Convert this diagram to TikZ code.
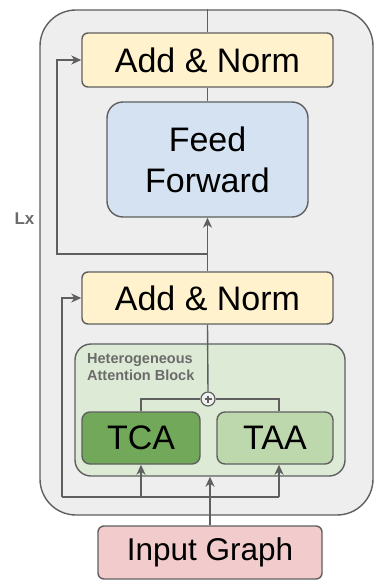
\documentclass[tikz,border=0pt]{standalone}
\usepackage{fontspec}
\setmainfont{Liberation Sans}
\usetikzlibrary{arrows.meta,positioning}

\definecolor{linegray}{HTML}{5F5F5F}
\definecolor{layerbg}{HTML}{EEEEEE}
\definecolor{normfill}{HTML}{FFF2CC}
\definecolor{fffill}{HTML}{D4E2F1}
\definecolor{habfill}{HTML}{DDEAD5}
\definecolor{tcafill}{HTML}{72A85A}
\definecolor{taafill}{HTML}{BCD8AC}
\definecolor{inputfill}{HTML}{F2CCCC}
\definecolor{labelgray}{HTML}{6B6B6B}

\tikzset{
  box/.style={draw=linegray, line width=1.4pt, align=center, inner sep=0pt,
    font=\fontsize{34}{41}\selectfont},
  arr/.style={draw=linegray, line width=1.4pt,
    -{Stealth[length=10pt,width=9pt,inset=3pt]}},
  wire/.style={draw=linegray, line width=1.4pt}
}

\begin{document}
\begin{tikzpicture}[x=1pt,y=-1pt]
\useasboundingbox (0,0) rectangle (374,580);
% repeated layer
\node[box, fill=layerbg, rounded corners=36pt, minimum width=333pt, minimum height=505pt] (layer) at (206.5,262.5) {};
\node[font=\fontsize{17}{20}\selectfont\bfseries, text=labelgray, inner sep=0pt] (lx) at (24.5,219) {Lx};
% upper half of the layer
\node[box, fill=normfill, rounded corners=6pt, minimum width=251pt, minimum height=54pt] (norm2) at (207.5,60) {Add \& Norm};
\node[box, fill=fffill, rounded corners=16pt, minimum width=201pt, minimum height=115pt] (ff) at (207.5,159.5) {Feed\\Forward};
\node[box, fill=normfill, rounded corners=6pt, minimum width=251pt, minimum height=52pt] (norm1) at (207.5,298) {Add \& Norm};
% attention block
\node[box, fill=habfill, rounded corners=16pt, minimum width=270pt, minimum height=132pt] (hab) at (210,410) {};
\node[anchor=base west, align=left, inner sep=0pt, text=labelgray,
  font=\fontsize{14.5}{17.3}\selectfont\bfseries] (habtitle) at (87,380.5) {Heterogeneous\\Attention Block};
\node[box, fill=tcafill, rounded corners=8pt, minimum width=118pt, minimum height=52pt] (tca) at (141,438) {TCA};
\node[box, fill=taafill, rounded corners=8pt, minimum width=116pt, minimum height=52pt] (taa) at (275,438) {TAA};
\node[circle, draw=linegray, line width=1.2pt, fill=white!94!black, minimum size=14pt, inner sep=0pt] (plus) at (208,399) {};
\draw[linegray, line width=1.6pt] ([xshift=-3.5pt]plus.center) -- ([xshift=3.5pt]plus.center)
  ([yshift=-3.5pt]plus.center) -- ([yshift=3.5pt]plus.center);
% input
\node[box, fill=inputfill, rounded corners=6pt, minimum width=224pt, minimum height=53pt,
  font=\fontsize{31.5}{38}\selectfont] (input) at (210,552.5) {Input Graph};

\coordinate (split2) at (208,254);
\coordinate (loop2) at (57,254);
\coordinate (bus) at (210,497);
\coordinate (loop1) at (62,497);

% main path
\draw[wire] (norm2.north) -- (norm2.north |- layer.north);
\draw[wire] (norm2.south) -- (ff.north);
\draw[arr] (norm1.north) -- (ff.south);
\draw[wire] (norm1.south) -- (plus.north);
\draw[wire] (plus.west) -| (tca.north);
\draw[wire] (plus.east) -| ([xshift=4pt]taa.north);
% residual connections
\draw[arr] (split2) -- (loop2) |- (norm2.west);
\draw[wire] (loop1) -- ([xshift=4pt]taa.south |- bus);
\draw[arr] (loop1) |- (norm1.west);
\draw[arr] (tca.south |- bus) -- (tca.south);
\draw[arr] ([xshift=4pt]taa.south |- bus) -- ([xshift=4pt]taa.south);
\draw[arr] (input.north) -- (hab.south);
\end{tikzpicture}
\end{document}
